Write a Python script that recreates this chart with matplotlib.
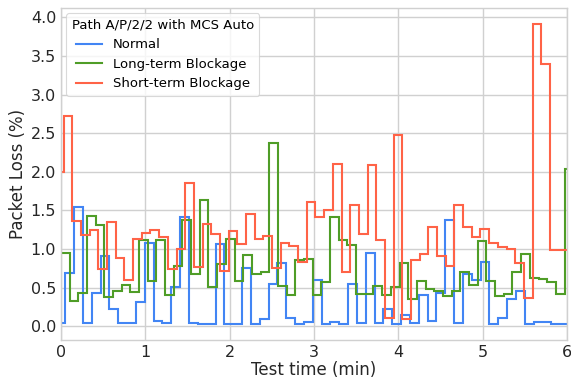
import numpy as np
import matplotlib
matplotlib.use("Agg")
import matplotlib.pyplot as plt

# Packet loss (%) per measurement window, Path A/P/2/2 with MCS Auto
normal = [0.04, 0.69, 1.54, 0.04, 0.43, 0.91, 0.22, 0.04, 0.04, 0.31,
          1.08, 0.07, 0.04, 0.51, 1.42, 0.04, 0.03, 0.03, 1.06, 0.03,
          0.03, 0.75, 0.03, 0.09, 0.55, 0.82, 0.10, 0.03, 0.05, 0.60,
          0.03, 0.06, 0.03, 0.55, 0.04, 0.95, 0.04, 0.22, 0.03, 0.14,
          0.04, 0.40, 0.07, 0.43, 1.38, 0.04, 0.67, 0.60, 0.83, 0.03,
          0.10, 0.35, 0.46, 0.03, 0.06, 0.05, 0.03, 0.03]
long_term = [0.95, 0.32, 0.43, 1.43, 1.31, 0.38, 0.46, 0.53, 0.44, 1.11,
             0.59, 1.12, 0.40, 0.78, 1.37, 0.67, 1.64, 0.51, 0.80, 1.13,
             0.58, 0.92, 0.68, 0.70, 2.37, 0.52, 0.40, 0.86, 0.87, 0.41,
             0.57, 1.41, 1.12, 1.05, 0.42, 0.42, 0.52, 0.41, 0.51, 0.82,
             0.35, 0.59, 0.48, 0.46, 0.39, 0.46, 0.70, 0.54, 1.10, 0.59,
             0.39, 0.42, 0.70, 0.94, 0.63, 0.61, 0.57, 0.42, 2.04]
short_term = [2.00, 2.72, 1.36, 1.18, 1.25, 0.74, 1.35, 0.88, 0.60, 1.13,
              1.21, 1.25, 1.16, 0.74, 1.00, 1.86, 0.77, 1.32, 1.19, 0.72,
              1.23, 1.06, 1.45, 1.13, 1.17, 0.76, 1.08, 1.04, 0.83, 1.61,
              1.42, 1.50, 2.10, 0.70, 1.57, 1.19, 2.09, 1.11, 0.11, 2.47,
              0.09, 0.86, 0.94, 1.28, 0.91, 0.78, 1.57, 1.29, 1.15, 1.26,
              1.08, 1.02, 1.00, 0.82, 0.37, 3.91, 3.40, 0.99, 0.99]

# window start offset and length (minutes) for each run
runs = [
    ("Normal", normal, -0.055, 0.1048, "#4285f4"),
    ("Long-term Blockage", long_term, -0.003, 0.103, "#4f9d27"),
    ("Short-term Blockage", short_term, -0.073, 0.103, "#ff6347"),
]

fig = plt.figure(figsize=(5.71, 3.83), dpi=100)
ax = fig.add_axes([0.107, 0.112, 0.886, 0.867])

for name, vals, t0, dt, col in runs:
    edges = t0 + dt * np.arange(len(vals) + 1)
    ax.stairs(vals, edges, baseline=None, color=col, lw=1.5, label=name)

ax.set_xlim(0, 6)
ax.set_ylim(-0.18, 4.12)
ax.set_xticks(range(0, 7))
ax.set_yticks(np.arange(0, 4.01, 0.5))
ax.set_yticklabels([f"{v:.1f}" for v in np.arange(0, 4.01, 0.5)])

ax.grid(True, color="#d0d0d0", lw=1.0)
ax.set_axisbelow(True)
for s in ax.spines.values():
    s.set_color("#d0d0d0")
    s.set_linewidth(1.0)
ax.tick_params(length=0, labelsize=11.5, colors="#262626", pad=3.5)

ax.set_xlabel("Test time (min)", fontsize=12, color="#262626", labelpad=1)
ax.set_ylabel("Packet Loss (%)", fontsize=12, color="#262626", labelpad=3)

leg = ax.legend(title="Path A/P/2/2 with MCS Auto", loc="upper left",
                fontsize=9.5, title_fontsize=9.5, frameon=True,
                borderaxespad=0.4, handlelength=2.0)
leg.get_frame().set_edgecolor("#d0d0d0")
leg.get_frame().set_linewidth(0.8)

fig.savefig("out.png", dpi=100)
